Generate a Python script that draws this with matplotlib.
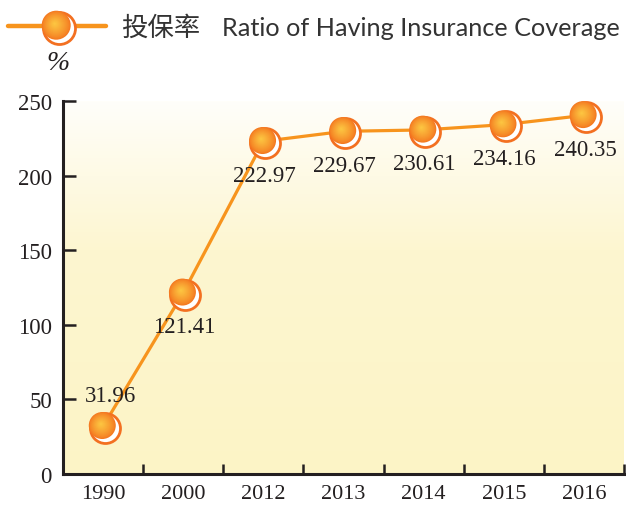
import numpy as np
import matplotlib
matplotlib.use("Agg")
import matplotlib.pyplot as plt
from matplotlib.transforms import offset_copy
from matplotlib.colors import LinearSegmentedColormap, to_rgb

# ---- data ----
years = ["1990", "2000", "2012", "2013", "2014", "2015", "2016"]
values = [31.96, 121.41, 222.97, 229.67, 230.61, 234.16, 240.35]
label_below = [False, True, True, True, True, True, True]
y_ticks = [0, 50, 100, 150, 200, 250]
legend_cn = "投保率"
legend_en = "Ratio of Having Insurance Coverage"
unit_label = "%"

LINE = "#f7941d"
RING = "#f37021"
EDGE = "#f47920"
CENTER = "#fcc441"
DARK = "#231f20"

fig = plt.figure(figsize=(6.26, 5.06), dpi=100)
W, H = 626, 506
ax = fig.add_axes([63 / W, 31 / H, 561 / W, 373 / H])
x = np.arange(len(years))
ax.set_xlim(-0.5, len(years) - 0.5)

# background gradient: white at top -> pale yellow lower down
grad = np.linspace(0, 1, 256).reshape(-1, 1)
cmap_bg = LinearSegmentedColormap.from_list(
    "bg", [(0, "#fffefa"), (0.4, "#fdf6d0"), (1, "#fcf4c6")])
ax.imshow(grad, extent=(-0.5, len(years) - 0.5, 0, 250), aspect="auto",
          cmap=cmap_bg, zorder=0, origin="upper")
ax.set_ylim(0, 250)

ax.plot(x, values, color=LINE, lw=2.3, zorder=2)


def draw_ball(axis, xs, ys, base_tr, r_px=13.5):
    f = axis.figure
    tr_ring = offset_copy(base_tr, fig=f, x=1.8, y=-1.8, units="dots")
    d_ring = 2 * (r_px + 1.5) * 72 / 100
    axis.scatter(xs, ys, s=d_ring ** 2, facecolor="white", edgecolor=RING,
                 linewidth=2.0, transform=tr_ring, zorder=3, clip_on=False)
    c0 = np.array(to_rgb(EDGE))
    c1 = np.array(to_rgb(CENTER))
    n = 16
    for i in range(n):
        t = i / (n - 1)
        r = r_px * (1 - 0.92 * t)
        col = c0 * (1 - t ** 0.8) + c1 * t ** 0.8
        off = -1.5 * t
        tr_b = offset_copy(base_tr, fig=f, x=-0.8 + off, y=0.8 - off, units="dots")
        d = 2 * r * 72 / 100
        axis.scatter(xs, ys, s=d ** 2, facecolor=col, edgecolor="none",
                     transform=tr_b, zorder=4 + i * 0.01, clip_on=False)


draw_ball(ax, x, values, ax.transData)

for xi, v, below in zip(x, values, label_below):
    if below:
        ax.annotate(f"{v:.2f}", (xi, v), xytext=(1, -34), textcoords="offset pixels",
                    ha="center", va="center", fontsize=16.5,
                    family="Liberation Serif", color=DARK, zorder=6)
    else:
        ax.annotate(f"{v:.2f}", (xi, v), xytext=(7, 31), textcoords="offset pixels",
                    ha="center", va="center", fontsize=16.5,
                    family="Liberation Serif", color=DARK, zorder=6)

for s in ["top", "right"]:
    ax.spines[s].set_visible(False)
for s in ["left", "bottom"]:
    ax.spines[s].set_linewidth(2.2)
    ax.spines[s].set_color(DARK)

ax.set_yticks(y_ticks)
ax.set_yticklabels([str(t) for t in y_ticks], family="Liberation Serif",
                   fontsize=16.5, color=DARK)
ax.tick_params(axis="y", direction="in", length=9, width=1.8, color=DARK, pad=8)

ax.set_xticks(x)
ax.set_xticklabels(years, family="Liberation Serif", fontsize=16, color=DARK)
ax.tick_params(axis="x", which="major", length=0, pad=7)
ax.set_xticks(np.arange(0.5, len(years)), minor=True)
ax.tick_params(axis="x", which="minor", direction="in", length=7, width=1.8, color=DARK)

# legend
lax = fig.add_axes([0, 0, 1, 1], zorder=10)
lax.set_xlim(0, W)
lax.set_ylim(H, 0)
lax.axis("off")
lax.plot([8, 106], [27, 27], color=LINE, lw=3.2, solid_capstyle="round", zorder=2)
draw_ball(lax, [57], [27], lax.transData, r_px=14.5)
fig.text(121 / W, 1 - 28 / H, legend_cn, family=["Noto Sans CJK SC", "DejaVu Sans"],
         fontsize=19, color="#333333", va="center", ha="left")
fig.text(222 / W, 1 - 28 / H, legend_en, family=["Lato", "DejaVu Sans"],
         fontsize=18.2, color="#333333", va="center", ha="left")
fig.text(58 / W, 1 - 64 / H, unit_label, family="Liberation Serif", style="italic",
         fontsize=20, color=DARK, va="center", ha="center")

fig.savefig("out.png", dpi=100)
